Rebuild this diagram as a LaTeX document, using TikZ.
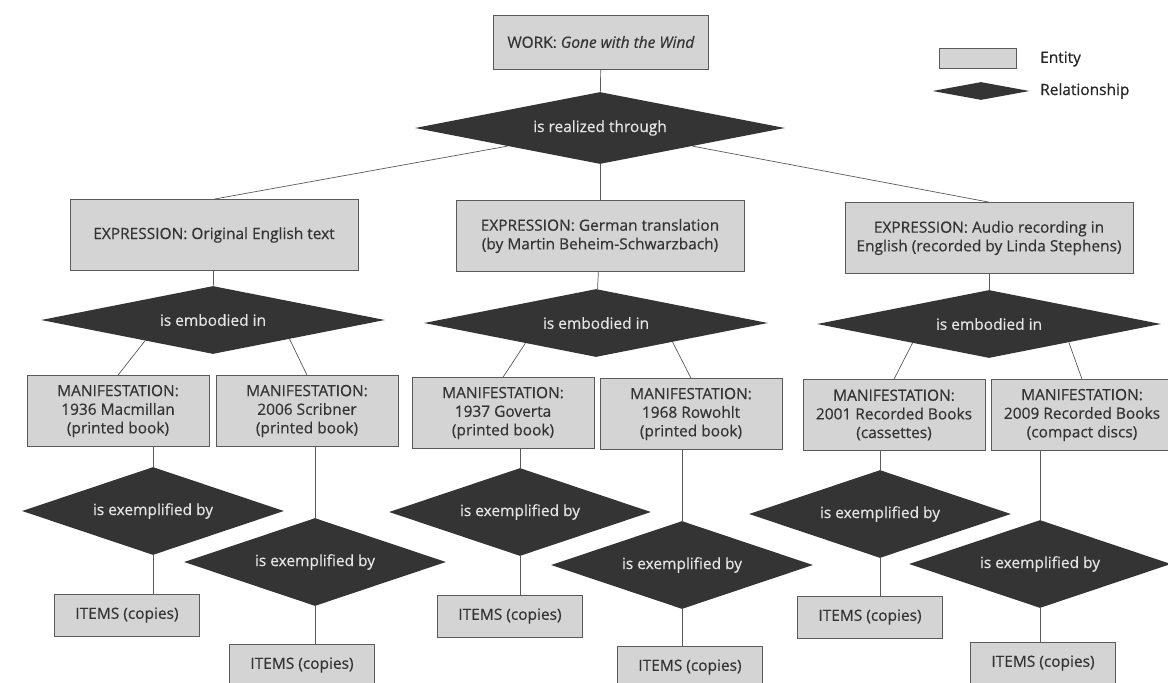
\documentclass[tikz,border=0pt]{standalone}
\usepackage{fontspec}
\setmainfont{Open Sans}[FakeBold=0.45]
\usetikzlibrary{shapes.geometric}
\definecolor{boxgray}{RGB}{212,212,212}
\definecolor{dkgray}{RGB}{52,52,52}
\definecolor{linegray}{RGB}{90,90,90}
\tikzstyle{entity} = [rectangle, minimum width=3.64cm, minimum height=1.42cm, inner sep=0pt, align=center, draw=linegray, fill=boxgray, text=dkgray, font=\fontsize{8.8}{10.6}\selectfont]
\tikzstyle{expression} = [entity, minimum width=5.76cm, minimum height=1.42cm]
\tikzstyle{items} = [entity, minimum width=2.9cm, minimum height=0.84cm]
\tikzstyle{relation} = [diamond, aspect=5, inner sep=0pt, minimum width=5.24cm, minimum height=1.76cm, fill=dkgray, text=white!90!black, font=\fontsize{8.8}{10.6}\selectfont]
\tikzstyle{embodied} = [relation, minimum width=6.88cm, minimum height=1.36cm]
\tikzstyle{link} = [draw=linegray, thin]

\begin{document}
\begin{tikzpicture}[x=0.02cm, y=-0.02cm]
\clip (0,0) rectangle (1168,682);
\fill[white] (0,0) rectangle (1168,682);
% work and first relationship
\node (work) [entity, minimum width=4.3cm, minimum height=1.08cm] at (601,42) {WORK: \textit{Gone with the Wind}};
\node (realize) [relation, minimum width=7.4cm, minimum height=1.44cm] at (600,128) {is realized through};
% expressions
\node (expr1) [expression] at (214,235) {EXPRESSION: Original English text};
\node (expr2) [expression] at (600,236) {EXPRESSION: German translation\\(by Martin Beheim-Schwarzbach)};
\node (expr3) [expression] at (989,238) {EXPRESSION: Audio recording in\\English (recorded by Linda Stephens)};
\node (emb1) [embodied] at (213,320) {is embodied in};
\node (emb2) [embodied] at (596,323) {is embodied in};
\node (emb3) [embodied] at (989,324) {is embodied in};
% manifestations
\node (man1) [entity] at (118,411) {MANIFESTATION:\\1936 Macmillan\\(printed book)};
\node (man2) [entity] at (307,411) {MANIFESTATION:\\2006 Scribner\\(printed book)};
\node (man3) [entity] at (503,413) {MANIFESTATION:\\1937 Goverta\\(printed book)};
\node (man4) [entity] at (691,414) {MANIFESTATION:\\1968 Rowohlt\\(printed book)};
\node (man5) [entity] at (894,415) {MANIFESTATION:\\2001 Recorded Books\\(cassettes)};
\node (man6) [entity] at (1082,415) {MANIFESTATION:\\2009 Recorded Books\\(compact discs)};
\node (ex1) [relation] at (153,511) {is exemplified by};
\node (ex2) [relation] at (315,562) {is exemplified by};
\node (ex3) [relation] at (520,512) {is exemplified by};
\node (ex4) [relation] at (682,565) {is exemplified by};
\node (ex5) [relation] at (880,514) {is exemplified by};
\node (ex6) [relation] at (1040,564) {is exemplified by};
% items
\node (items1) [items] at (127,615) {ITEMS (copies)};
\node (items2) [items] at (302,665) {ITEMS (copies)};
\node (items3) [items] at (510,616) {ITEMS (copies)};
\node (items4) [items] at (690,667) {ITEMS (copies)};
\node (items5) [items] at (870,617) {ITEMS (copies)};
\node (items6) [items] at (1043,663) {ITEMS (copies)};
% legend
\node (legent) [entity, minimum width=1.54cm, minimum height=0.4cm] at (978,58) {};
\node (legrel) [relation, minimum width=1.94cm, minimum height=0.36cm] at (981,91) {};
\node (legenttext) [anchor=west, text=black!85, font=\fontsize{8.8}{10.6}\selectfont] at (1034,59) {Entity};
\node (legreltext) [anchor=west, text=black!85, font=\fontsize{8.8}{10.6}\selectfont] at (1034,91) {Relationship};
% connectors
\draw [link] (work) -- (realize);
\draw [link] (realize.south west) -- (expr1.north);
\draw [link] (realize.south) -- (expr2.north);
\draw [link] (realize.south east) -- (expr3.north);
\draw [link] (expr1) -- (emb1);
\draw [link] (expr2) -- (emb2);
\draw [link] (expr3) -- (emb3);
\draw [link] (emb1.197) -- (man1.north);
\draw [link] (emb1.346) -- (man2.north);
\draw [link] (emb2.196) -- (man3.north);
\draw [link] (emb2.346) -- (man4.north);
\draw [link] (emb3.194) -- (man5.north);
\draw [link] (emb3.347) -- (man6.north);
\draw [link] (ex1.north) -- (ex1.north |- man1.south);
\draw [link] (ex2.north) -- (ex2.north |- man2.south);
\draw [link] (ex3.north) -- (ex3.north |- man3.south);
\draw [link] (ex4.north) -- (ex4.north |- man4.south);
\draw [link] (ex5.north) -- (ex5.north |- man5.south);
\draw [link] (ex6.north) -- (ex6.north |- man6.south);
\draw [link] (ex1.south) -- (ex1.south |- items1.north);
\draw [link] (ex2.south) -- (ex2.south |- items2.north);
\draw [link] (ex3.south) -- (ex3.south |- items3.north);
\draw [link] (ex4.south) -- (ex4.south |- items4.north);
\draw [link] (ex5.south) -- (ex5.south |- items5.north);
\draw [link] (ex6.south) -- (ex6.south |- items6.north);
\end{tikzpicture}
\end{document}
